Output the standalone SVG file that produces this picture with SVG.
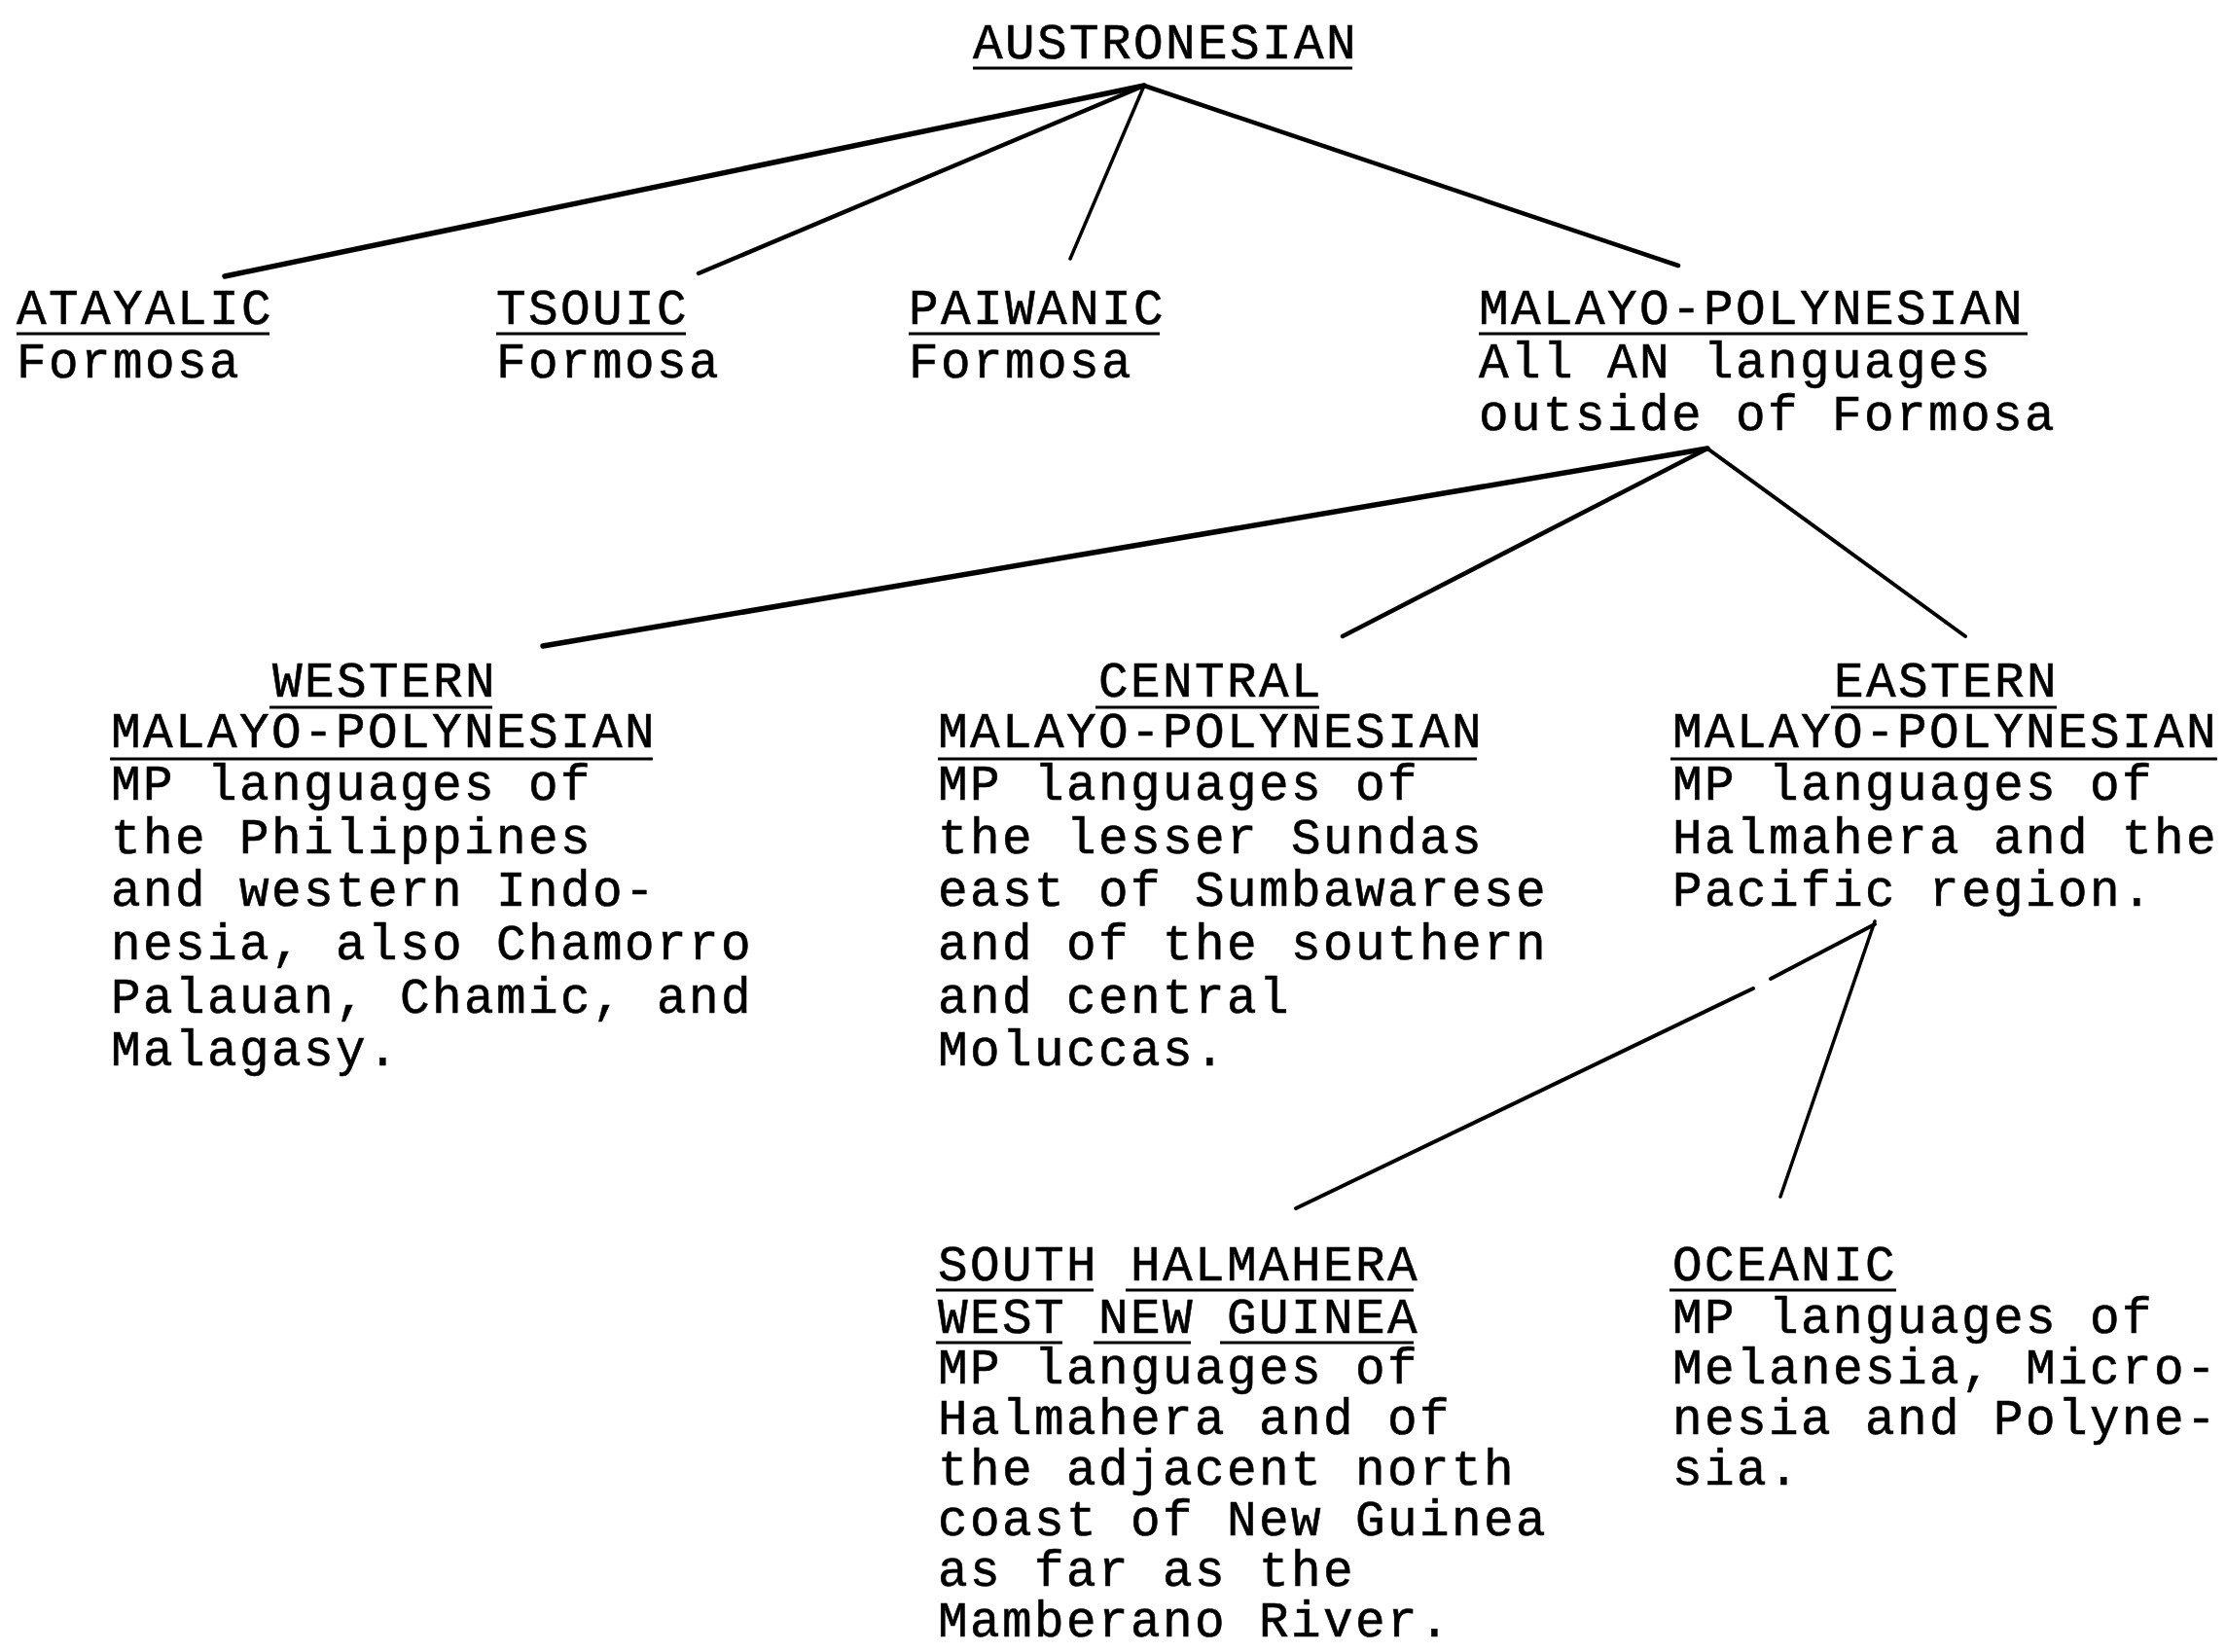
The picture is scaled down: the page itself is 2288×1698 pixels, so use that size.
<svg xmlns="http://www.w3.org/2000/svg" width="2288" height="1698" viewBox="0 0 2288 1698">
<style>
text{font-family:"Liberation Mono","DejaVu Sans Mono",monospace;font-size:51px;letter-spacing:2.4px;fill:#000;stroke:#000;stroke-width:0.6}
.u{stroke:#000;stroke-width:3;fill:none}
.c line{stroke:#000;stroke-linecap:round;fill:none}
</style>
<rect width="2288" height="1698" fill="#fff"/>
<g class="c" id="connectors">
<line x1="1176" y1="88" x2="231" y2="284" stroke-width="5.5"/>
<line x1="1176" y1="88" x2="718" y2="281" stroke-width="4.5"/>
<line x1="1176" y1="88" x2="1100" y2="266" stroke-width="3.5"/>
<line x1="1176" y1="88" x2="1725" y2="273" stroke-width="4.5"/>
<line x1="1755" y1="461" x2="558" y2="664" stroke-width="5.5"/>
<line x1="1755" y1="461" x2="1380" y2="654" stroke-width="4.5"/>
<line x1="1755" y1="461" x2="2020" y2="654" stroke-width="4"/>
<line x1="1927" y1="950" x2="1820" y2="1006" stroke-width="4"/>
<line x1="1802" y1="1016" x2="1332" y2="1242" stroke-width="4"/>
<line x1="1927" y1="947" x2="1830" y2="1230" stroke-width="3.5"/>
</g>
<g id="austronesian">
<text x="1000" y="60">AUSTRONESIAN</text>
<line class="u" x1="1000" y1="70" x2="1390" y2="70"/>
</g>
<g id="atayalic">
<text x="17" y="333">ATAYALIC</text>
<line class="u" x1="17" y1="343" x2="277" y2="343"/>
<text x="17" y="388">Formosa</text>
</g>
<g id="tsouic">
<text x="510" y="333">TSOUIC</text>
<line class="u" x1="510" y1="343" x2="705" y2="343"/>
<text x="510" y="388">Formosa</text>
</g>
<g id="paiwanic">
<text x="934" y="333">PAIWANIC</text>
<line class="u" x1="934" y1="343" x2="1192" y2="343"/>
<text x="934" y="388">Formosa</text>
</g>
<g id="malayo-polynesian">
<text x="1520" y="333">MALAYO-POLYNESIAN</text>
<line class="u" x1="1520" y1="343" x2="2084" y2="343"/>
<text x="1520" y="388">All AN languages</text>
<text x="1520" y="442">outside of Formosa</text>
</g>
<g id="western-mp">
<text x="280" y="716">WESTERN</text>
<line class="u" x1="277" y1="727" x2="506" y2="727"/>
<text x="114" y="768">MALAYO-POLYNESIAN</text>
<line class="u" x1="113" y1="780" x2="671" y2="780"/>
<text x="114" y="822">MP languages of</text>
<text x="114" y="877">the Philippines</text>
<text x="114" y="931">and western Indo-</text>
<text x="114" y="986">nesia, also Chamorro</text>
<text x="114" y="1041">Palauan, Chamic, and</text>
<text x="114" y="1095">Malagasy.</text>
</g>
<g id="central-mp">
<text x="1129" y="716">CENTRAL</text>
<line class="u" x1="1126" y1="727" x2="1356" y2="727"/>
<text x="964" y="768">MALAYO-POLYNESIAN</text>
<line class="u" x1="964" y1="780" x2="1518" y2="780"/>
<text x="964" y="822">MP languages of</text>
<text x="964" y="877">the lesser Sundas</text>
<text x="964" y="931">east of Sumbawarese</text>
<text x="964" y="986">and of the southern</text>
<text x="964" y="1041">and central</text>
<text x="964" y="1095">Moluccas.</text>
</g>
<g id="eastern-mp">
<text x="1885" y="716">EASTERN</text>
<line class="u" x1="1882" y1="727" x2="2114" y2="727"/>
<text x="1719" y="768">MALAYO-POLYNESIAN</text>
<line class="u" x1="1717" y1="780" x2="2279" y2="780"/>
<text x="1719" y="822">MP languages of</text>
<text x="1719" y="877">Halmahera and the</text>
<text x="1719" y="931">Pacific region.</text>
</g>
<g id="south-halmahera-west-new-guinea">
<text x="964" y="1316">SOUTH HALMAHERA</text>
<line class="u" x1="962" y1="1326" x2="1124" y2="1326"/>
<line class="u" x1="1157" y1="1326" x2="1453" y2="1326"/>
<text x="964" y="1370">WEST NEW GUINEA</text>
<line class="u" x1="962" y1="1380" x2="1092" y2="1380"/>
<line class="u" x1="1124" y1="1380" x2="1224" y2="1380"/>
<line class="u" x1="1254" y1="1380" x2="1453" y2="1380"/>
<text x="964" y="1422">MP languages of</text>
<text x="964" y="1474">Halmahera and of</text>
<text x="964" y="1526">the adjacent north</text>
<text x="964" y="1578">coast of New Guinea</text>
<text x="964" y="1630">as far as the</text>
<text x="964" y="1682">Mamberano River.</text>
</g>
<g id="oceanic">
<text x="1719" y="1316">OCEANIC</text>
<line class="u" x1="1716" y1="1326" x2="1949" y2="1326"/>
<text x="1719" y="1370">MP languages of</text>
<text x="1719" y="1422">Melanesia, Micro-</text>
<text x="1719" y="1474">nesia and Polyne-</text>
<text x="1719" y="1526">sia.</text>
</g>
</svg>
